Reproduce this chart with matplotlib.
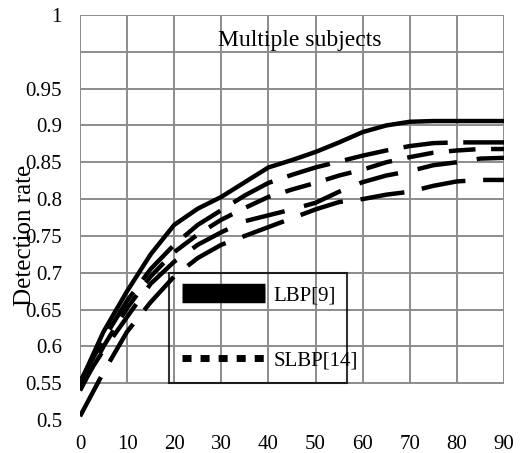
import matplotlib
matplotlib.use("Agg")
import matplotlib.pyplot as plt
import numpy as np
from matplotlib.lines import Line2D

plt.rcParams['font.family'] = ['Liberation Serif', 'DejaVu Serif']

# -----------------------------------------------------------
# data
# -----------------------------------------------------------

x = [0, 5, 10, 15, 20, 25, 30, 35, 40, 45, 50, 55, 60, 65, 70, 75, 80, 85, 90]

solid = [0.550, 0.620, 0.675, 0.725, 0.765, 0.787, 0.803, 0.823, 0.843, 0.853,
         0.864, 0.877, 0.891, 0.900, 0.905, 0.906, 0.906, 0.906, 0.906]
dash_a = [0.552, 0.610, 0.662, 0.705, 0.738, 0.765, 0.785, 0.805, 0.822, 0.833,
          0.843, 0.851, 0.859, 0.866, 0.872, 0.876, 0.877, 0.877, 0.877]
dash_b = [0.540, 0.600, 0.652, 0.695, 0.728, 0.752, 0.772, 0.788, 0.803, 0.813,
          0.822, 0.832, 0.840, 0.850, 0.857, 0.863, 0.866, 0.868, 0.868]
dash_c = [0.545, 0.595, 0.640, 0.685, 0.715, 0.738, 0.755, 0.770, 0.778, 0.786,
          0.795, 0.810, 0.823, 0.832, 0.838, 0.846, 0.850, 0.855, 0.856]
dash_d = [0.505, 0.565, 0.620, 0.660, 0.695, 0.720, 0.738, 0.750, 0.762, 0.774,
          0.786, 0.796, 0.800, 0.806, 0.810, 0.818, 0.824, 0.826, 0.826]

xticks = [0, 10, 20, 30, 40, 50, 60, 70, 80, 90]
yticks = [0.5, 0.55, 0.6, 0.65, 0.7, 0.75, 0.8, 0.85, 0.9, 0.95, 1.05]
ytick_labels = ['0.5', '0.55', '0.6', '0.65', '0.7', '0.75', '0.8', '0.85',
                '0.9', '0.95', '1']
legend_labels = ['LBP[9]', 'SLBP[14]']

# -----------------------------------------------------------
# figure
# -----------------------------------------------------------

W, H = 528, 453
fig = plt.figure(figsize=(W/100, H/100), dpi=100)
ax = fig.add_axes([80/W, 1-420/H, 424/W, 405/H])
ax.set_xlim(0, 90)
ax.set_ylim(0.5, 1.05)

gcol = '#8c8c8c'
ax.hlines(np.arange(0.55, 1.051, 0.05), 0, 90, color=gcol, lw=1.4, zorder=0)
ax.vlines(xticks, 0.55, 1.05, color=gcol, lw=1.4, zorder=0)
for s in ax.spines.values():
    s.set_visible(False)

ax.plot(x, dash_d, color='k', lw=3.2, ls=(0, (10, 4)), dash_capstyle='butt')
ax.plot(x, dash_c, color='k', lw=3.2, ls=(0, (9, 4.5)), dash_capstyle='butt')
ax.plot(x, dash_b, color='k', lw=3.2, ls=(0, (6, 3.5)), dash_capstyle='butt')
ax.plot(x, dash_a, color='k', lw=3.2, ls=(0, (10, 3.5)), dash_capstyle='butt')
ax.plot(x, solid, color='k', lw=3.2, solid_capstyle='butt')

ax.set_xticks(xticks)
ax.set_xticklabels([str(v) for v in xticks])
ax.set_yticks(yticks)
ax.set_yticklabels(ytick_labels)
ax.tick_params(length=0, labelsize=15)
ax.tick_params(axis='x', pad=11)
ax.tick_params(axis='y', pad=13)

# titles / labels
fig.text(292/W, 1+6/H, 'Multiple subjects', ha='center', va='baseline', fontsize=17)
ax.text(300/W, 1-46/H, 'Multiple subjects', ha='center', va='baseline', fontsize=17,
        transform=fig.transFigure)
fig.text(25/W, 1-235/H, 'Detection rate', rotation=90, ha='center', va='center',
         fontsize=18)

# legend
handles = [
    Line2D([], [], color='k', lw=14, solid_capstyle='butt'),
    Line2D([], [], color='k', lw=5, ls=(0, (1.3, 1.3)), dash_capstyle='butt'),
]
leg = ax.legend(handles, legend_labels, loc='lower left',
                bbox_to_anchor=(0.21, 0.091, 0.42, 0.287), mode='expand',
                fontsize=15, frameon=True, fancybox=False, handlelength=4,
                handletextpad=0.4, labelspacing=2.2, borderpad=0.6,
                borderaxespad=0)
leg.get_frame().set_edgecolor('k')
leg.get_frame().set_facecolor('none')
leg.get_frame().set_linewidth(1.5)

fig.savefig('out.png', dpi=100)
